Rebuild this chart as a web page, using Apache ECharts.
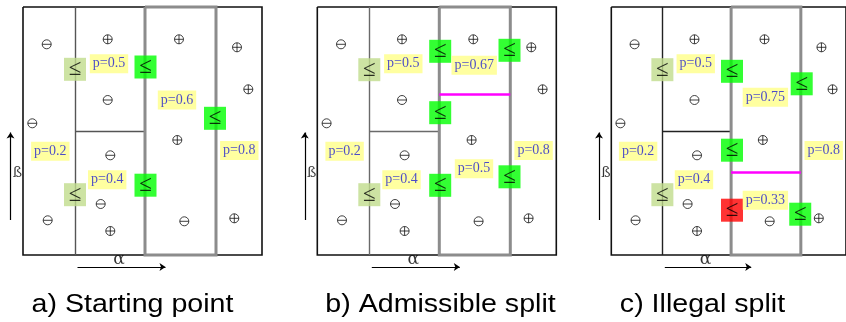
<!DOCTYPE html>
<html>
<head>
<meta charset="utf-8">
<script src="https://cdn.jsdelivr.net/npm/echarts@6/dist/echarts.min.js"></script>
<style>html,body{margin:0;padding:0;background:#fff;}#chart{width:846px;height:322px;}</style>
</head>
<body>
<div id="chart"></div>
<script>
// ---- data (panel-local units: alpha to the right, beta measured downward from top of box) ----
const boxWidth = 239;
const boxHeight = 248;
const alphaSplits = [52, 122, 193];          // column boundaries
const betaSplit = 124;                       // horizontal split inside column 2
const plusPoints = [[84.7,32.3],[156,32.3],[214,40.3],[225.3,82.3],[154.3,133],[211.3,211.3],[87.3,224]];
const minusPoints = [[23.7,37.3],[84.7,93],[9.3,116.3],[87.3,148.3],[77.7,197],[24.7,213.3],[161.3,214.3]];
const commonProbLabels = [['p=0.5',86,56.7],['p=0.2',27.3,144.2],['p=0.8',216.3,143.5],['p=0.4',84.2,172.7]];
const panelProbLabels = [
  [['p=0.6',154,93]],
  [['p=0.67',156.9,58.2],['p=0.5',156.7,161.8]],
  [['p=0.75',156.9,90.2],['p=0.33',156.9,193.3]]
];
const leqBoxes = [
  [['light',52,62.3],['bright',122.5,60],['bright',192,111.3],['bright',122.5,178.2],['light',52,187.7]],
  [['light',52,62.7],['bright',122.9,44.3],['bright',192.2,43.3],['bright',122.9,105.7],['bright',192.2,169.8],['bright',122.9,178.3],['light',52,187.7]],
  [['light',52,62.7],['bright',122.9,64.3],['bright',193.9,76.8],['bright',122.9,143.2],['red',122.9,203.2],['bright',192.4,207.2],['light',52,187.7]]
];
const magentaSplits = [null, 87.3, 165];
const alphaArrow = [[54.5,260],[142.5,260]];
const betaArrow = [[-12.5,213],[-12.5,125.5]];
const alphaName = ['α', 96, 253];
const betaName = ['ß', -5.5, 166];
const captions = ['a) Starting point','b) Admissible split','c) Illegal split'];

// ---- layout / style ----
const panelLeft = [23, 317.3, 611.3];
const panelTop = 7;
const captionX = [132.5, 440.5, 702.5];
const boxColors = {light:'#c0dc8c', bright:'#00ff00', red:'#ff0000'};
const innerLineColor = ['#555', '#6a6a6a', '#222'];

const grids = [], xAxes = [], yAxes = [], series = [];
const circlePlus = 'path://M0,10A10,10 0 1,1 20,10A10,10 0 1,1 0,10ZM0,10L20,10M10,0L10,20';
const circleMinus = 'path://M0,10A10,10 0 1,1 20,10A10,10 0 1,1 0,10ZM0,10L20,10';

for (let i = 0; i < 3; i++) {
  grids.push({left: panelLeft[i], top: panelTop, width: boxWidth, height: boxHeight});
  xAxes.push({type:'value', gridIndex:i, min:0, max:boxWidth, show:false});
  yAxes.push({type:'value', gridIndex:i, min:0, max:boxHeight, inverse:true, show:false});
  const ax = {xAxisIndex:i, yAxisIndex:i, coordinateSystem:'cartesian2d'};
  const [c1, c2, c3] = alphaSplits;
  // outer box
  series.push(Object.assign({type:'lines', polyline:true, clip:false, silent:true,
    lineStyle:{color:'#111', width:1.6, opacity:1},
    data:[{coords:[[0,0],[boxWidth,0],[boxWidth,boxHeight],[0,boxHeight],[0,0]]}]}, ax));
  // thin inner lines
  series.push(Object.assign({type:'lines', clip:false, silent:true,
    lineStyle:{color:innerLineColor[i], width:1.4, opacity:1},
    data:[{coords:[[c1,0],[c1,boxHeight]]},{coords:[[c1,betaSplit],[c2,betaSplit]]}]}, ax));
  // thick gray column
  series.push(Object.assign({type:'lines', polyline:true, clip:false, silent:true,
    lineStyle:{color:'#8c8c8c', width:3, opacity:1},
    data:[{coords:[[c2,0],[c3,0],[c3,boxHeight],[c2,boxHeight],[c2,0]]}]}, ax));
  // magenta split
  if (magentaSplits[i] !== null) {
    series.push(Object.assign({type:'lines', clip:false, silent:true,
      lineStyle:{color:'#ff00ff', width:2.5, opacity:1},
      data:[{coords:[[c2,magentaSplits[i]],[c3,magentaSplits[i]]]}]}, ax));
  }
  // plus / minus examples
  series.push(Object.assign({type:'scatter', clip:false, silent:true, symbol:circlePlus, symbolSize:9,
    itemStyle:{color:'rgba(0,0,0,0)', borderColor:'#111', borderWidth:1},
    data:plusPoints}, ax));
  series.push(Object.assign({type:'scatter', clip:false, silent:true, symbol:circleMinus, symbolSize:9,
    itemStyle:{color:'rgba(0,0,0,0)', borderColor:'#111', borderWidth:1},
    data:minusPoints}, ax));
  // <= boxes
  series.push(Object.assign({type:'scatter', clip:false, silent:true, symbol:'rect', symbolSize:[22,23],
    data:leqBoxes[i].map(b => ({value:[b[1],b[2]], itemStyle:{color:boxColors[b[0]]}})),
    label:{show:true, position:'inside', formatter:'≤', color:'#000', fontFamily:'Liberation Serif', fontSize:23, textBorderWidth:0}}, ax));
  // probability labels
  series.push(Object.assign({type:'scatter', clip:false, silent:true, symbolSize:1,
    itemStyle:{color:'rgba(0,0,0,0)'},
    data:commonProbLabels.concat(panelProbLabels[i]).map(l => ({name:l[0], value:[l[1],l[2]]})),
    label:{show:true, position:'inside', formatter:'{b}', color:'#1e1ed2', fontFamily:'Liberation Serif',
      fontSize:14, backgroundColor:'#ffff88', padding:[3,3,2,3], textBorderWidth:0}}, ax));
  // axis arrows
  series.push(Object.assign({type:'lines', clip:false, silent:true, symbol:['none','arrow'], symbolSize:6,
    lineStyle:{color:'#000', width:1.2, opacity:1},
    data:[{coords:alphaArrow},{coords:betaArrow}]}, ax));
  // axis names
  series.push(Object.assign({type:'scatter', clip:false, silent:true, symbolSize:1,
    itemStyle:{color:'rgba(0,0,0,0)'},
    data:[alphaName, betaName].map((n, k) => ({name:n[0], value:[n[1],n[2]], label:{fontSize: k === 0 ? 17 : 14}})),
    label:{show:true, position:'inside', formatter:'{b}', color:'#000', fontFamily:'DejaVu Serif', textBorderWidth:0}}, ax));
}

const graphic = captions.map((t, i) => ({
  type:'text', x:captionX[i], y:305, scaleX:1.1, silent:true,
  style:{text:t, font:'26px "Liberation Sans"', fill:'#000', align:'center', verticalAlign:'middle'}
}));

const chart = echarts.init(document.getElementById('chart'), null, {renderer:'canvas'});
chart.setOption({animation:false, grid:grids, xAxis:xAxes, yAxis:yAxes, series:series, graphic:graphic});
</script>
</body>
</html>
